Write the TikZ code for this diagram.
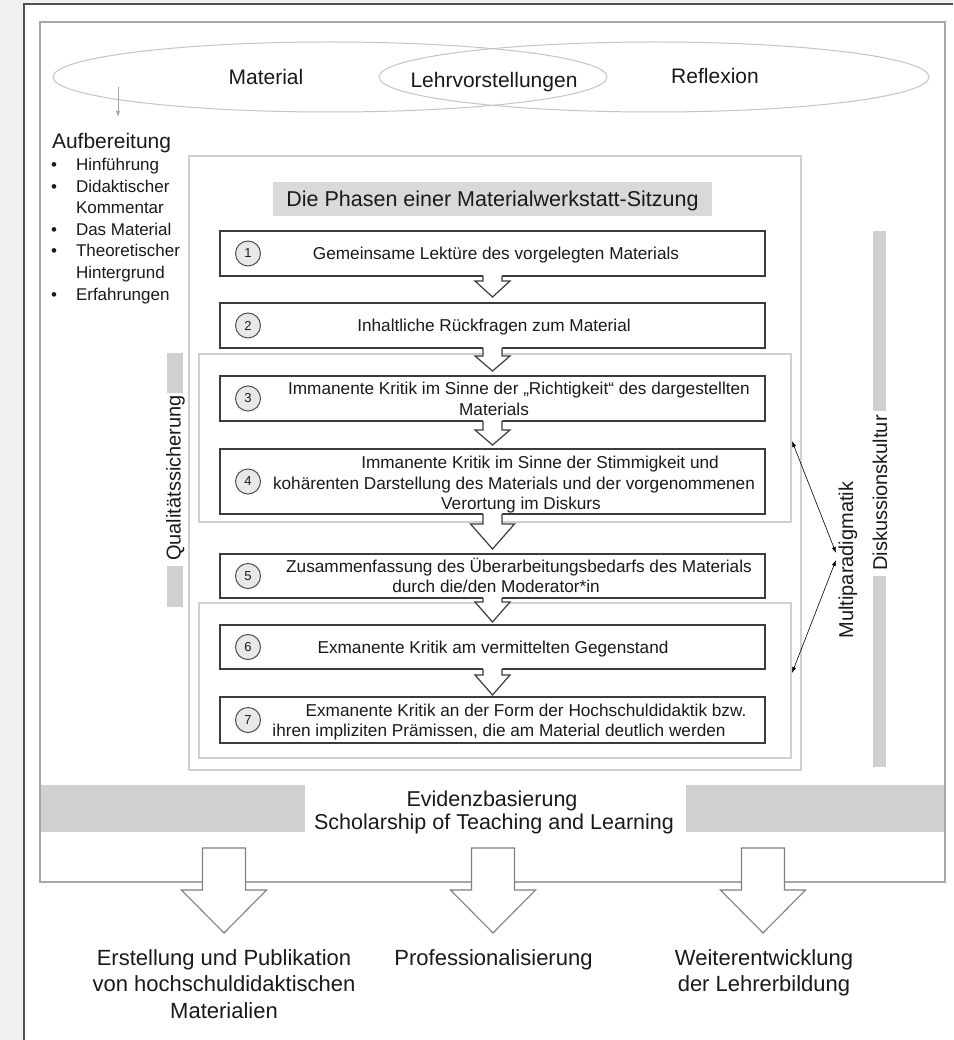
\documentclass[tikz,border=0pt]{standalone}
\usepackage{fontspec}
\setmainfont{Liberation Sans}
\usetikzlibrary{arrows.meta,fit,calc,shapes.geometric}
\definecolor{bgc}{HTML}{F0F0F0}
\definecolor{panelc}{HTML}{505050}
\definecolor{framec}{HTML}{A6A6A6}
\definecolor{lightb}{HTML}{D0D0D0}
\definecolor{ellc}{HTML}{C4C4C4}
\definecolor{darkb}{HTML}{3C3C3C}
\definecolor{barc}{HTML}{D0D0D0}
\definecolor{titlec}{HTML}{D9D9D9}
\definecolor{circc}{HTML}{E8E8E8}
\definecolor{txtc}{HTML}{1A1A1A}
\definecolor{arrc}{HTML}{808080}
\newcommand\FSz[1]{\fontsize{#1}{#1}\selectfont}
\newcommand\BlkArrow[6]{%
  \path[fill=white] let \p1=(#1.south), \p2=(#2.north) in
    (\x1-#3pt,\y1+0.9pt) -- (\x1-#3pt,\y2+#6pt+#5pt) -- (\x1-#4pt,\y2+#6pt+#5pt) -- (\x1,\y2+#6pt)
    -- (\x1+#4pt,\y2+#6pt+#5pt) -- (\x1+#3pt,\y2+#6pt+#5pt) -- (\x1+#3pt,\y1+0.9pt) -- cycle;
  \draw[arrline] let \p1=(#1.south), \p2=(#2.north) in
    (\x1-#3pt,\y1) -- (\x1-#3pt,\y2+#6pt+#5pt) -- (\x1-#4pt,\y2+#6pt+#5pt) -- (\x1,\y2+#6pt)
    -- (\x1+#4pt,\y2+#6pt+#5pt) -- (\x1+#3pt,\y2+#6pt+#5pt) -- (\x1+#3pt,\y1);
}
\newcommand\OutArrow[1]{%
  \draw[outarrow] let \p1=(#1) in
    (\x1-21.5pt,\y1) -- (\x1-21.5pt,\y1-42pt) -- (\x1-42.5pt,\y1-42pt) -- (\x1,\y1-85pt)
    -- (\x1+42.5pt,\y1-42pt) -- (\x1+21.5pt,\y1-42pt) -- (\x1+21.5pt,\y1) -- cycle;
}
\begin{document}
\begin{tikzpicture}[x=1pt,y=-1pt,
  every node/.style={text=txtc, inner sep=0pt, outer sep=0pt},
  stepbox/.style={draw=darkb, fill=white, line width=1.3pt},
  groupbox/.style={draw=lightb, line width=1.2pt},
  graybar/.style={fill=barc, draw=none},
  steptext/.style={anchor=base, font=\FSz{17.2}},
  bigtext/.style={anchor=base, font=\FSz{21.5}},
  bullettext/.style={anchor=base west, font=\FSz{17}},
  numcirc/.style={circle, draw=panelc, fill=circc, line width=1pt, minimum size=25pt, font=\FSz{13}},
  vtext/.style={rotate=90, font=\FSz{20}},
  arrline/.style={draw=darkb, line width=1.2pt, line join=miter},
  outarrow/.style={draw=arrc, line width=1.1pt, fill=white, line join=miter},
  dbl/.style={{Latex[length=6pt,width=4pt]}-{Latex[length=6pt,width=4pt]}, line width=0.6pt, black},
]
\useasboundingbox (0,0) rectangle (953,1040);
\fill[bgc] (0,0) rectangle (953,1040);
\fill[white] (24,4) rectangle (953,1040);
\draw[panelc, line width=1.5pt] (24,1040) -- (24,4) -- (953,4);
\node[draw=framec, line width=1.5pt, fit={(40,22) (945,882)}] (frameBox) {};

% ellipses
\node[ellipse, draw=ellc, line width=1pt, minimum width=554pt, minimum height=70pt] (ellL) at (330,77) {};
\node[ellipse, draw=ellc, line width=1pt, minimum width=550pt, minimum height=70pt] (ellR) at (654,77) {};
\node[bigtext, font=\FSz{21}] (tMat) at (266,84.5) {Material};
\node[bigtext, font=\FSz{21}] (tLehr) at (494,87.5) {Lehrvorstellungen};
\node[bigtext, font=\FSz{21}] (tRefl) at (715,83.5) {Reflexion};

\coordinate (sA) at (118,87);
\coordinate (sB) at (118,117);
\draw[draw=gray!70, line width=0.8pt, -{Latex[length=6pt,width=4.5pt]}] (sA) -- (sB);

% Aufbereitung
\node[anchor=base west, font=\FSz{21}] (aufb) at (52,148.3) {Aufbereitung};
\node[anchor=base, font=\FSz{17}] (bu1) at (54,171) {•};
\node[bullettext] (li1) at (76,171) {Hinführung};
\node[anchor=base, font=\FSz{17}] (bu2) at (54,192.5) {•};
\node[bullettext] (li2) at (76,192.5) {Didaktischer};
\node[bullettext] (li2b) at (76,214) {Kommentar};
\node[anchor=base, font=\FSz{17}] (bu3) at (54,235.5) {•};
\node[bullettext] (li3) at (76,235.5) {Das Material};
\node[anchor=base, font=\FSz{17}] (bu4) at (54,257) {•};
\node[bullettext] (li4) at (76,257) {Theoretischer};
\node[bullettext] (li4b) at (76,278.5) {Hintergrund};
\node[anchor=base, font=\FSz{17}] (bu5) at (54,300) {•};
\node[bullettext] (li5) at (76,300) {Erfahrungen};

% content box and title
\node[groupbox, fit={(189,156) (801,770)}] (content) {};
\node[fill=titlec, fit={(273,182) (712,216)}] (titlebar) {};
\node[bigtext] (title) at (492.5,206.7) {Die Phasen einer Materialwerkstatt-Sitzung};

% group boxes
\node[groupbox, fit={(199,354) (791,522)}] (gA) {};
\node[groupbox, fit={(199,603) (791,758)}] (gB) {};

% step boxes
\node[stepbox, fit={(220,231) (765,276)}] (b1) {};
\node[stepbox, fit={(220,303) (765,348)}] (b2) {};
\node[stepbox, fit={(220,376) (765,421)}] (b3) {};
\node[stepbox, fit={(220,449) (765,514)}] (b4) {};
\node[stepbox, fit={(220,554) (765,598)}] (b5) {};
\node[stepbox, fit={(220,625) (765,669)}] (b6) {};
\node[stepbox, fit={(220,697) (765,743)}] (b7) {};

% block arrows between steps
\BlkArrow{b1}{b2}{9.5}{17.5}{16}{6}
\BlkArrow{b2}{b3}{9.5}{17.5}{15}{5}
\BlkArrow{b3}{b4}{9.5}{17.5}{15}{4}
\BlkArrow{b4}{b5}{9.5}{22}{25}{5}
\BlkArrow{b5}{b6}{9.5}{17.5}{20}{3}
\BlkArrow{b6}{b7}{9.5}{17.5}{20}{2}

% number circles
\node[numcirc] (n1) at ($(b1.west)+(28,0)$) {1};
\node[numcirc] (n2) at ($(b2.west)+(28,0)$) {2};
\node[numcirc] (n3) at ($(b3.west)+(28,0)$) {3};
\node[numcirc] (n4) at ($(b4.west)+(28,0)$) {4};
\node[numcirc] (n5) at ($(b5.west)+(28,0)$) {5};
\node[numcirc] (n6) at ($(b6.west)+(28,0)$) {6};
\node[numcirc] (n7) at ($(b7.west)+(28,0)$) {7};

% step texts
\node[steptext] (s1) at (496,259.7) {Gemeinsame Lektüre des vorgelegten Materials};
\node[steptext] (s2) at (494,331.7) {Inhaltliche Rückfragen zum Material};
\node[steptext] (s3a) at (519,394.5) {Immanente Kritik im Sinne der „Richtigkeit“ des dargestellten};
\node[steptext] (s3b) at (494,415) {Materials};
\node[steptext] (s4a) at (540,468.5) {Immanente Kritik im Sinne der Stimmigkeit und};
\node[steptext] (s4b) at (514,489) {kohärenten Darstellung des Materials und der vorgenommenen};
\node[steptext] (s4c) at (521,509.5) {Verortung im Diskurs};
\node[steptext] (s5a) at (519,572) {Zusammenfassung des Überarbeitungsbedarfs des Materials};
\node[steptext] (s5b) at (496,592.5) {durch die/den Moderator*in};
\node[steptext] (s6) at (493,653.2) {Exmanente Kritik am vermittelten Gegenstand};
\node[steptext] (s7a) at (526,716) {Exmanente Kritik an der Form der Hochschuldidaktik bzw.};
\node[steptext] (s7b) at (499,736.5) {ihren impliziten Prämissen, die am Material deutlich werden};

% Qualitaetssicherung
\node[graybar, fit={(167,353) (183,393)}] (qbar1) {};
\node[graybar, fit={(167,566) (183,607)}] (qbar2) {};
\node[vtext] (qtext) at (175.5,478) {Qualitätssicherung};

% Diskussionskultur
\node[graybar, fit={(873,231) (886,411)}] (dbar1) {};
\node[graybar, fit={(873,576) (886,767)}] (dbar2) {};
\node[vtext] (dtext) at (880,493) {Diskussionskultur};

% Multiparadigmatik
\node[vtext] (mtext) at (848,560) {Multiparadigmatik};
\coordinate (mA) at (792,441);
\coordinate (mB) at (792,673);
\coordinate (mP1) at (836,553);
\coordinate (mP2) at (836,560);
\draw[dbl] (mA) -- (mP1);
\draw[dbl] (mP2) -- (mB);

% Evidenzbasierung
\node[graybar, fit={(41,785) (305,832)}] (ebar1) {};
\node[graybar, fit={(686,785) (944,832)}] (ebar2) {};
\node[bigtext] (ev1) at (492,806.7) {Evidenzbasierung};
\node[bigtext] (ev2) at (494,829.7) {Scholarship of Teaching and Learning};

% bottom arrows
\coordinate (oa1) at (224,848);
\coordinate (oa2) at (493,848);
\coordinate (oa3) at (763,848);
\OutArrow{oa1}
\OutArrow{oa2}
\OutArrow{oa3}

\node[bigtext, font=\FSz{22}] (o1a) at (224,965) {Erstellung und Publikation};
\node[bigtext, font=\FSz{22}] (o1b) at (224,991.5) {von hochschuldidaktischen};
\node[bigtext, font=\FSz{22}] (o1c) at (224,1018) {Materialien};
\node[bigtext, font=\FSz{22}] (o2a) at (493.5,965) {Professionalisierung};
\node[bigtext, font=\FSz{22}] (o3a) at (764,965) {Weiterentwicklung};
\node[bigtext, font=\FSz{22}] (o3b) at (764,991.5) {der Lehrerbildung};
\end{tikzpicture}
\end{document}
